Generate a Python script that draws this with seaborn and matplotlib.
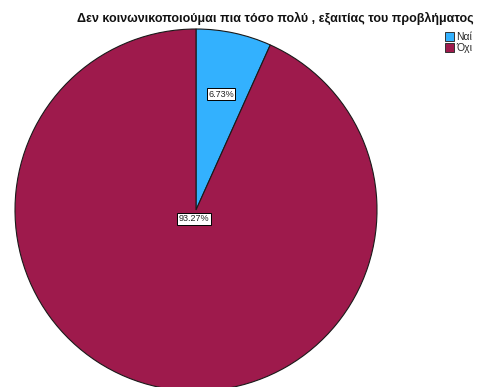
import numpy as np
import matplotlib
matplotlib.use("Agg")
import matplotlib.pyplot as plt
from matplotlib.patches import Patch
import seaborn as sns

# Survey answers and their shares (%)
categories = ["Ναί", "Όχι"]
shares = [6.73, 93.27]
share_labels = ["6.73%", "93.27%"]
title = "Δεν κοινωνικοποιούμαι πια τόσο πολύ , εξαιτίας του προβλήματος"

sns.set_style("white")
plt.rcParams["font.family"] = ["Liberation Sans", "DejaVu Sans"]

colors = ["#33B1FE", "#9E1A4C"]

W, H = 479, 387
fig = plt.figure(figsize=(W / 100, H / 100), dpi=100)
ax = fig.add_axes([0, 0, 1, 1])

cx, cy, r = 196, H - 210, 181
wedges, _ = ax.pie(shares, colors=colors, startangle=90, counterclock=False,
                   center=(cx, cy), radius=r, frame=True,
                   wedgeprops=dict(edgecolor="#1a1a1a", linewidth=0.8))
ax.set_xlim(0, W)
ax.set_ylim(0, H)
ax.set_aspect("equal")
ax.axis("off")

# value boxes placed along each wedge's bisector
dist = [0.655, 0.05]
for w, lab, d in zip(wedges, share_labels, dist):
    mid = np.deg2rad((w.theta1 + w.theta2) / 2)
    x = cx + d * r * np.cos(mid)
    y = cy + d * r * np.sin(mid)
    ax.text(x, y, lab, ha="center", va="center", fontsize=6.5, color="#222222",
            bbox=dict(boxstyle="square,pad=0.15", fc="white", ec="black", lw=0.7))

fig.text(474 / W, 1 - 18 / H, title, ha="right", va="center",
         fontsize=9, fontweight="bold", color="#111111")

handles = [Patch(facecolor=c, edgecolor="#333333", linewidth=0.7) for c in colors]
fig.legend(handles, categories, loc="upper left", bbox_to_anchor=(445 / W, 1 - 32 / H),
           frameon=False, fontsize=7.5, handlelength=0.85, handleheight=0.85,
           handletextpad=0.2, labelspacing=0.1, borderaxespad=0, borderpad=0)

fig.savefig("out.png", dpi=100)
